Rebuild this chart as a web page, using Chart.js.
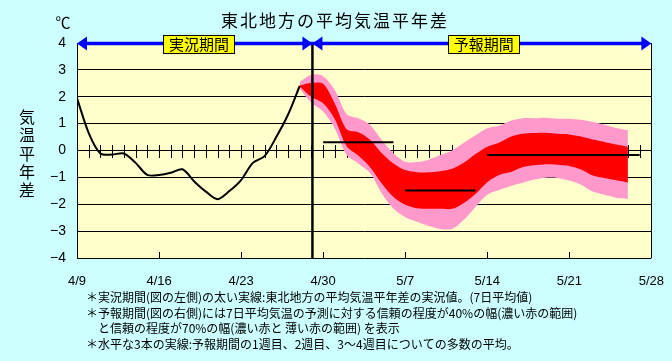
<!DOCTYPE html>
<html>
<head>
<meta charset="utf-8">
<script src="https://cdn.jsdelivr.net/npm/chart.js@4.4.1/dist/chart.umd.min.js"></script>
<style>
  html, body { margin: 0; padding: 0; background: #ccffff; }
</style>
</head>
<body>
<canvas id="chart" width="672" height="361"></canvas>
<script>
// x axis is "days since 4/9"
const xTickLabels = ['4/9', '4/16', '4/23', '4/30', '5/7', '5/14', '5/21', '5/28'];
const lastDay = 49;

// observed 7-day mean anomaly, 4/9 .. 4/28
const obsValues = [1.95, 0.65, -0.11, -0.15, -0.11, -0.46, -0.91, -0.91, -0.83, -0.7,
  -1.15, -1.53, -1.81, -1.51, -1.1, -0.46, -0.21, 0.5, 1.33, 2.4];

// forecast bands, 4/28 .. 5/26
const fcStartDay = 19;
const pinkTop = [2.55, 2.82, 2.76, 2.24, 1.35, 1.2, 0.96, 0.39, -0.1, -0.42, -0.43, -0.34, -0.17, 0.0, 0.29,
  0.57, 0.83, 0.92, 1.11, 1.2, 1.2, 1.22, 1.18, 1.18, 1.14, 1.06, 0.96, 0.84, 0.76];
const redTop = [2.42, 2.52, 2.48, 1.74, 0.79, 0.68, 0.4, -0.1, -0.48, -0.73, -0.81, -0.81, -0.77, -0.68, -0.46,
  -0.13, 0.14, 0.29, 0.51, 0.62, 0.65, 0.66, 0.62, 0.6, 0.52, 0.41, 0.32, 0.22, 0.14];
const redBottom = [2.38, 1.99, 1.76, 1.16, 0.16, -0.19, -0.62, -1.23, -1.73, -2.02, -2.15, -2.17, -2.17, -2.17, -1.95,
  -1.62, -1.18, -0.91, -0.8, -0.62, -0.55, -0.51, -0.53, -0.58, -0.71, -0.93, -1.02, -1.11, -1.19];
const pinkBottom = [2.3, 1.78, 1.45, 0.81, -0.16, -0.48, -0.84, -1.59, -2.17, -2.48, -2.65, -2.81, -2.92, -2.92, -2.58,
  -2.1, -1.65, -1.47, -1.32, -1.2, -1.08, -1.01, -1.02, -1.12, -1.27, -1.53, -1.65, -1.76, -1.8];

// week means: 1st week, 2nd week, weeks 3-4
const weekFrom = [21, 28, 35];
const weekTo = [27, 34, 48];
const weekMean = [0.31, -1.49, -0.17];

const splitDay = 20;
const periodNames = ['実況期間', '予報期間'];

const notes = [
  '＊実況期間(図の左側)の太い実線:東北地方の平均気温平年差の実況値。(7日平均値)',
  '＊予報期間(図の右側)には7日平均気温の予測に対する信頼の程度が40%の幅(濃い赤の範囲)',
  '　と信頼の程度が70%の幅(濃い赤と 薄い赤の範囲) を表示',
  '＊水平な3本の実線:予報期間の1週目、2週目、3～4週目についての多数の平均。'
];

const JP = '"Noto Sans CJK JP", sans-serif';
const LAT = '"Liberation Sans", Arial, sans-serif';

function series(start, values) {
  return values.map((v, i) => ({ x: start + i, y: v }));
}

const bandStyle = { pointRadius: 0, borderWidth: 0, tension: 0.3 };

const datasets = [
  { data: series(fcStartDay, pinkTop), fill: 1, backgroundColor: '#ff99cc', order: 4, ...bandStyle },
  { data: series(fcStartDay, pinkBottom), fill: false, order: 4, ...bandStyle },
  { data: series(fcStartDay, redTop), fill: 3, backgroundColor: '#ff0000', order: 3, ...bandStyle },
  { data: series(fcStartDay, redBottom), fill: false, order: 3, ...bandStyle },
  { data: series(0, obsValues), borderColor: '#000', borderWidth: 2, pointRadius: 0, tension: 0.3, order: 1 }
];
weekMean.forEach((m, i) => {
  datasets.push({
    data: [{ x: weekFrom[i], y: m }, { x: weekTo[i], y: m }],
    borderColor: '#000', borderWidth: 2, pointRadius: 0, order: 1
  });
});

function arrowHead(ctx, tipX, y, dir) {
  ctx.beginPath();
  ctx.moveTo(tipX, y);
  ctx.lineTo(tipX - dir * 10, y - 7);
  ctx.lineTo(tipX - dir * 10, y + 7);
  ctx.closePath();
  ctx.fill();
}

function labelBox(ctx, text, cx, cy) {
  ctx.font = '15px ' + JP;
  const w = 71, h = 18;
  ctx.fillStyle = '#ffff00';
  ctx.fillRect(Math.round(cx - w / 2) + 0.5, Math.round(cy - h / 2) + 0.5, w, h);
  ctx.strokeStyle = '#000';
  ctx.lineWidth = 1;
  ctx.strokeRect(Math.round(cx - w / 2) + 0.5, Math.round(cy - h / 2) + 0.5, w, h);
  ctx.fillStyle = '#000';
  ctx.textAlign = 'center';
  ctx.textBaseline = 'middle';
  ctx.fillText(text, cx, cy + 1);
}

const decor = {
  id: 'decor',
  beforeDraw(chart) {
    const { ctx, chartArea: a } = chart;
    ctx.save();
    ctx.fillStyle = '#ccffff';
    ctx.fillRect(0, 0, chart.width, chart.height);
    ctx.fillStyle = '#ffffcc';
    ctx.fillRect(a.left, a.top, a.right - a.left, a.bottom - a.top);
    ctx.restore();
  },
  beforeDatasetsDraw(chart) {
    // daily ticks along the zero line
    const { ctx, scales: { x, y } } = chart;
    const y0 = Math.round(y.getPixelForValue(0));
    ctx.save();
    ctx.strokeStyle = '#000';
    ctx.lineWidth = 1;
    ctx.beginPath();
    for (let d = 1; d < lastDay; d++) {
      const px = Math.round(x.getPixelForValue(d)) + 0.5;
      ctx.moveTo(px, y0 - 6);
      ctx.lineTo(px, y0 + 7);
    }
    ctx.stroke();
    ctx.restore();
  },
  afterDatasetsDraw(chart) {
    const { ctx, chartArea: a, scales: { x, y } } = chart;
    ctx.save();
    ctx.strokeStyle = '#000';
    ctx.lineWidth = 1;
    // weekly ticks at the bottom, pointing inward
    ctx.beginPath();
    for (let d = 7; d < lastDay; d += 7) {
      const px = Math.round(x.getPixelForValue(d)) + 0.5;
      ctx.moveTo(px, a.bottom);
      ctx.lineTo(px, a.bottom - 6);
    }
    // right border
    ctx.moveTo(Math.round(a.right) + 0.5, a.top);
    ctx.lineTo(Math.round(a.right) + 0.5, a.bottom);
    ctx.stroke();

    // divider between observed and forecast
    const sx = x.getPixelForValue(splitDay) + 1;
    ctx.lineWidth = 2.5;
    ctx.beginPath();
    ctx.moveTo(sx, a.top);
    ctx.lineTo(sx, a.bottom);
    ctx.stroke();

    // period arrows
    const ay = a.top + 0.5;
    ctx.strokeStyle = '#0000ff';
    ctx.fillStyle = '#0000ff';
    ctx.lineWidth = 3.5;
    ctx.beginPath();
    ctx.moveTo(a.left + 4, ay);
    ctx.lineTo(a.right - 4, ay);
    ctx.stroke();
    arrowHead(ctx, a.left, ay, -1);
    arrowHead(ctx, sx, ay, 1);
    arrowHead(ctx, sx, ay, -1);
    arrowHead(ctx, a.right, ay, 1);

    labelBox(ctx, periodNames[0], x.getPixelForValue(10.4), ay);
    labelBox(ctx, periodNames[1], x.getPixelForValue(34.7), ay);
    ctx.restore();
  },
  afterDraw(chart) {
    const { ctx } = chart;
    ctx.save();
    ctx.fillStyle = '#000';
    ctx.textBaseline = 'middle';
    ctx.textAlign = 'center';
    ctx.font = '17px ' + JP;
    ctx.letterSpacing = '2px';
    ctx.fillText('東北地方の平均気温平年差', 335, 21);
    ctx.letterSpacing = '0px';
    ctx.font = '15px ' + JP;
    ctx.fillText('℃', 63, 22);
    ctx.font = '16px ' + JP;
    const yTitle = '気温平年差';
    for (let i = 0; i < yTitle.length; i++) {
      ctx.fillText(yTitle[i], 27, 117 + i * 18.3);
    }
    ctx.textAlign = 'left';
    ctx.font = '12px ' + JP;
    const ys = [297, 313, 328, 344];
    notes.forEach((t, i) => ctx.fillText(t, 86, ys[i]));
    ctx.restore();
  }
};

new Chart(document.getElementById('chart'), {
  type: 'line',
  data: { datasets },
  plugins: [decor],
  options: {
    responsive: false,
    animation: false,
    devicePixelRatio: 1,
    layout: { padding: { top: 43, right: 20, left: 0, bottom: 0 } },
    plugins: { legend: { display: false }, tooltip: { enabled: false } },
    scales: {
      x: {
        type: 'linear',
        min: 0,
        max: lastDay,
        afterFit: s => { s.height = 103; },
        grid: { display: false },
        border: { display: false },
        ticks: {
          stepSize: 7,
          autoSkip: false,
          maxRotation: 0,
          padding: 8,
          color: '#000',
          font: { family: LAT, size: 13 },
          callback: v => xTickLabels[v / 7]
        }
      },
      y: {
        min: -4,
        max: 4,
        afterFit: s => { s.width = 77; },
        grid: { color: '#000', lineWidth: 1, drawTicks: false },
        border: { display: true, color: '#000', width: 1 },
        ticks: {
          stepSize: 1,
          padding: 11,
          color: '#000',
          font: { family: LAT, size: 14 },
          callback: v => String(v).replace('-', '−')
        }
      }
    }
  }
});
</script>
</body>
</html>
